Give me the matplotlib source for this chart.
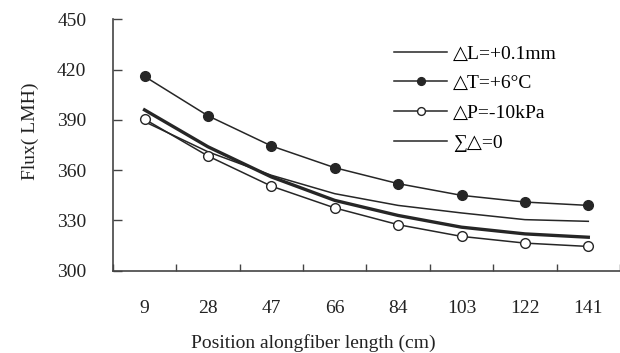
import matplotlib
matplotlib.use("Agg")
import matplotlib.pyplot as plt
import numpy as np

positions = ["9", "28", "47", "66", "84", "103", "122", "141"]
flux_dL = [389, 371, 357, 346, 339, 334.5, 330.5, 329.5]
flux_dT = [416, 392.5, 374.5, 361.5, 352, 345, 341, 339]
flux_dP = [390.5, 368.5, 350.5, 337.5, 327.5, 320.5, 316.5, 314.5]
flux_sum0 = [396, 374, 356, 342, 333, 326, 322, 320]

plt.rcParams["font.family"] = ["Liberation Serif", "DejaVu Sans"]
ink = "#262626"

fig = plt.figure(figsize=(6.2, 3.53), dpi=100)
ax = fig.add_axes([0.182, 0.233, 0.818, 0.712])

x = np.arange(len(positions))
ax.plot(x, flux_dL, color=ink, lw=1.1, label="△L=+0.1mm")
ax.plot(x, flux_dT, color=ink, lw=1.1, marker="o", ms=7, mfc=ink, mec=ink,
        label="△T=+6°C")
ax.plot(x, flux_dP, color=ink, lw=1.1, marker="o", ms=7, mfc="white", mec=ink,
        mew=1.0, label="△P=-10kPa")
ax.plot(x, flux_sum0, color=ink, lw=2.4, label="∑△=0")

ax.set_xlim(-0.5, len(positions) - 0.5)
ax.set_ylim(300, 450)
ax.set_yticks([300, 330, 360, 390, 420, 450])

# tick marks between categories, labels at centres
ax.set_xticks(np.arange(len(positions) + 1) - 0.5)
ax.set_xticklabels([])
ax.set_xticks(x, minor=True)
ax.set_xticklabels(positions, minor=True)
ax.tick_params(axis="x", which="major", direction="in", length=5, width=1, color="#444")
ax.tick_params(axis="x", which="minor", length=0, pad=21, labelsize=14, labelcolor="#222")
ax.tick_params(axis="y", direction="in", length=6.5, width=1, color="#444",
               pad=19, labelsize=14, labelcolor="#222")

for s in ["top", "right"]:
    ax.spines[s].set_visible(False)
for s in ["left", "bottom"]:
    ax.spines[s].set_color("#444")
    ax.spines[s].set_linewidth(1.2)

ax.set_ylabel("Flux( LMH)", fontsize=14, color="#222")
ax.yaxis.set_label_coords(-0.146, 0.556)
ax.set_xlabel("Position alongfiber length (cm)", fontsize=14, color="#222")
ax.xaxis.set_label_coords(0.396, -0.25)

leg = ax.legend(loc="upper left", bbox_to_anchor=(394 / 620, 1 - 45 / 353),
                bbox_transform=fig.transFigure, frameon=False, fontsize=14,
                borderpad=0, borderaxespad=0, handlelength=2.75, handletextpad=0.3,
                labelspacing=0.62, markerscale=0.8)
leg.get_lines()[3].set_linewidth(1.1)

fig.savefig("out.png", dpi=100)
